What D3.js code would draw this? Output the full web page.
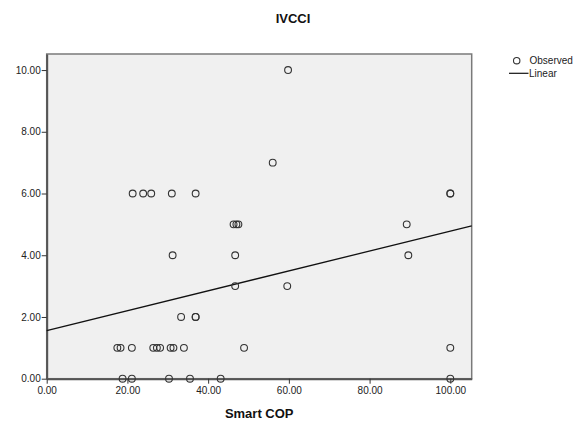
<!DOCTYPE html>
<html>
<head>
<meta charset="utf-8">
<script src="https://cdn.jsdelivr.net/npm/d3@7"></script>
<style>
  html, body { margin: 0; padding: 0; background: #fff; }
  svg { display: block; font-family: Arial, "Liberation Sans", sans-serif; }
</style>
</head>
<body>
<svg id="chart" width="579" height="421"></svg>
<script>
// ---- data ----
const title = "IVCCI";
const xLabel = "Smart COP";
const smartCOP = [
  59.8, 56.0,
  21.3, 23.9, 25.9, 31.0, 36.9, 100, 100,
  46.3, 47.0, 47.5, 89.2,
  31.2, 46.7, 89.6,
  46.7, 59.6,
  33.3, 36.9, 36.9,
  17.5, 18.3, 21.1, 26.4, 27.3, 28.1, 30.7, 31.4, 34.0, 48.9, 100,
  18.8, 21.1, 30.3, 35.5, 43.1, 100
];
const ivcci = [
  10, 7,
  6, 6, 6, 6, 6, 6, 6,
  5, 5, 5, 5,
  4, 4, 4,
  3, 3,
  2, 2, 2,
  1, 1, 1, 1, 1, 1, 1, 1, 1, 1, 1,
  0, 0, 0, 0, 0, 0
];
const xTicks = [0, 20, 40, 60, 80, 100];
const yTicks = [0, 2, 4, 6, 8, 10];
const xDomain = [0, 105.3];
const yDomain = [0, 10.52];
const fitIntercept = 1.56;   // linear fit
const fitSlope = 0.0322;
const legendItems = ["Observed", "Linear"];

// ---- layout ----
const svg = d3.select("#chart");
const plot = { left: 46.7, right: 471.7, top: 54, bottom: 378.7 };

const x = d3.scaleLinear().domain(xDomain).range([plot.left, plot.right]);
const y = d3.scaleLinear().domain(yDomain).range([plot.bottom, plot.top]);

// background
svg.append("rect")
  .attr("x", plot.left).attr("y", plot.top)
  .attr("width", plot.right - plot.left).attr("height", plot.bottom - plot.top)
  .attr("fill", "#f0f0f0")
  .attr("stroke", "#7a7a7a").attr("stroke-width", 1.5);

// axes
const fmt = d3.format(".2f");
const xAxis = svg.append("g")
  .attr("transform", `translate(0,${plot.bottom})`)
  .call(d3.axisBottom(x).tickValues(xTicks).tickFormat(fmt).tickSize(5).tickSizeOuter(0));
const yAxis = svg.append("g")
  .attr("transform", `translate(${plot.left},0)`)
  .call(d3.axisLeft(y).tickValues(yTicks).tickFormat(fmt).tickSize(5).tickSizeOuter(0));

[xAxis, yAxis].forEach(g => {
  g.select(".domain").attr("stroke", "#555").attr("stroke-width", 2);
  g.selectAll(".tick line").attr("stroke", "#333").attr("stroke-width", 1);
  g.selectAll(".tick text").attr("fill", "#222").attr("font-size", "10px")
    .attr("font-family", "Arial, 'Liberation Sans', sans-serif");
});
xAxis.selectAll(".tick text").attr("dy", "0.71em").attr("y", 8);
yAxis.selectAll(".tick text").attr("x", -6);

// fit line
const line = d3.line().x(d => x(d)).y(d => y(fitIntercept + fitSlope * d));
svg.append("path")
  .datum(xDomain)
  .attr("d", line)
  .attr("fill", "none")
  .attr("stroke", "#111")
  .attr("stroke-width", 1.3);

// points
svg.append("g").selectAll("circle")
  .data(smartCOP.map((v, i) => [v, ivcci[i]]))
  .join("circle")
  .attr("cx", d => x(d[0]))
  .attr("cy", d => y(d[1]))
  .attr("r", 3.4)
  .attr("fill", "none")
  .attr("stroke", "#333")
  .attr("stroke-width", 1.1);

// title
svg.append("text")
  .attr("x", 293).attr("y", 23)
  .attr("text-anchor", "middle")
  .attr("font-size", "13px").attr("font-weight", "bold")
  .attr("fill", "#111")
  .text(title);

// x label
svg.append("text")
  .attr("x", (plot.left + plot.right) / 2).attr("y", 418)
  .attr("text-anchor", "middle")
  .attr("font-size", "13px").attr("font-weight", "bold")
  .attr("fill", "#111")
  .text(xLabel);

// legend
const lg = svg.append("g");
lg.append("circle").attr("cx", 516.7).attr("cy", 60.7).attr("r", 3.2)
  .attr("fill", "none").attr("stroke", "#333").attr("stroke-width", 1.1);
lg.append("text").attr("x", 529.5).attr("y", 60.7).attr("dy", "0.35em")
  .attr("font-size", "10px").attr("fill", "#222").text(legendItems[0]);
lg.append("line").attr("x1", 509).attr("x2", 528.5).attr("y1", 73.3).attr("y2", 73.3)
  .attr("stroke", "#111").attr("stroke-width", 1.2);
lg.append("text").attr("x", 529).attr("y", 73.3).attr("dy", "0.35em")
  .attr("font-size", "10px").attr("fill", "#222").text(legendItems[1]);
</script>
</body>
</html>
